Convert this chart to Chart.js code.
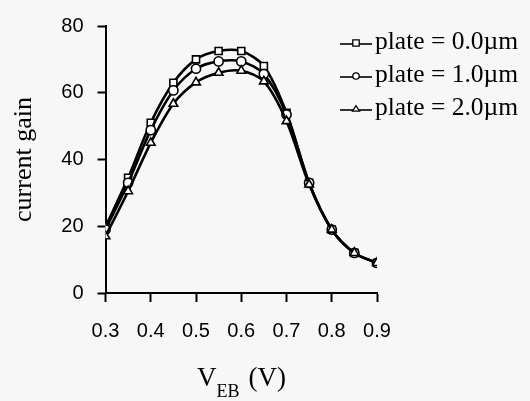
<!DOCTYPE html>
<html>
<head>
<meta charset="utf-8">
<script src="https://cdn.jsdelivr.net/npm/chart.js@4"></script>
<style>
  html, body { margin: 0; padding: 0; background: #f7f7f7; }
  #wrap { position: relative; width: 530px; height: 401px; }
  canvas { display: block; }
</style>
</head>
<body>
<div id="wrap"><canvas id="c" width="530" height="401"></canvas></div>
<script>
// ---- data ----
const vEB = [0.30, 0.35, 0.40, 0.45, 0.50, 0.55, 0.60, 0.65, 0.70, 0.75, 0.80, 0.85, 0.90];
const gainPlate0 = [19.8, 34.5, 51.0, 63.0, 70.0, 72.5, 72.5, 68.0, 54.0, 33.0, 19.0, 12.0, 9.0];
const gainPlate1 = [19.0, 33.0, 48.8, 60.7, 67.2, 69.4, 69.4, 65.6, 53.5, 33.0, 19.0, 12.0, 9.0];
const gainPlate2 = [17.0, 30.5, 45.0, 56.7, 63.1, 66.0, 66.6, 63.4, 51.5, 32.5, 19.0, 12.0, 9.0];
const seriesLabels = ['plate = 0.0\u00B5m', 'plate = 1.0\u00B5m', 'plate = 2.0\u00B5m'];
const seriesMarkers = ['rect', 'circle', 'triangle'];
const xTicks = [0.3, 0.4, 0.5, 0.6, 0.7, 0.8, 0.9];
const yTicks = [0, 20, 40, 60, 80];

const toXY = (ys) => vEB.map((x, i) => ({ x: x, y: ys[i] }));
const allSeries = [gainPlate0, gainPlate1, gainPlate2];
const markerRadius = [5, 4.6, 5];

const datasets = allSeries.map((ys, i) => ({
  label: seriesLabels[i],
  data: toXY(ys),
  borderColor: '#000',
  borderWidth: 2.6,
  backgroundColor: '#fff',
  pointStyle: seriesMarkers[i],
  pointRadius: markerRadius[i],
  pointBorderWidth: 1.6,
  pointBorderColor: '#000',
  pointBackgroundColor: '#fff',
  tension: 0.3,
  order: 3 - i
}));

function drawMarker(ctx, style, x, y, r) {
  ctx.beginPath();
  if (style === 'rect') {
    ctx.rect(x - r, y - r, 2 * r, 2 * r);
  } else if (style === 'circle') {
    ctx.arc(x, y, r, 0, Math.PI * 2);
  } else {
    const h = r * 1.7;
    ctx.moveTo(x, y - h * 0.6);
    ctx.lineTo(x + r * 1.1, y + h * 0.4);
    ctx.lineTo(x - r * 1.1, y + h * 0.4);
    ctx.closePath();
  }
  ctx.fillStyle = '#fff';
  ctx.fill();
  ctx.lineWidth = 1.3;
  ctx.strokeStyle = '#000';
  ctx.stroke();
}

const extras = {
  id: 'extras',
  afterDraw(chart) {
    const ctx = chart.ctx;
    ctx.save();
    // legend
    const rowsY = [42, 75, 108];
    ctx.font = '25.5px "Liberation Serif", "Times New Roman", serif';
    ctx.textBaseline = 'middle';
    ctx.textAlign = 'left';
    seriesLabels.forEach((lab, i) => {
      const y = rowsY[i];
      ctx.beginPath();
      ctx.moveTo(340, y + 2);
      ctx.lineTo(372, y + 2);
      ctx.lineWidth = 1.6;
      ctx.strokeStyle = '#000';
      ctx.stroke();
      drawMarker(ctx, seriesMarkers[i], 356, y + 1, 3.2);
      ctx.fillStyle = '#000';
      ctx.fillText(lab, 375, y);
    });
    // x axis title with subscript
    ctx.textBaseline = 'alphabetic';
    ctx.font = '27px "Liberation Serif", "Times New Roman", serif';
    let x = 197;
    ctx.fillText('V', x, 386);
    x += ctx.measureText('V').width;
    ctx.font = '18px "Liberation Serif", "Times New Roman", serif';
    ctx.fillText('EB', x, 397);
    x += ctx.measureText('EB').width + 3;
    ctx.font = '27px "Liberation Serif", "Times New Roman", serif';
    ctx.fillText('(V)', x + 6, 386);
    ctx.restore();
  }
};

new Chart(document.getElementById('c'), {
  type: 'line',
  data: { datasets: datasets },
  plugins: [extras],
  options: {
    responsive: false,
    animation: false,
    layout: { padding: { left: 0, right: 153, top: 14, bottom: 0 } },
    plugins: { legend: { display: false }, tooltip: { enabled: false } },
    scales: {
      x: {
        type: 'linear',
        min: 0.3, max: 0.9,
        afterFit(s) { s.height = 108; },
        afterBuildTicks(s) { s.ticks = xTicks.map(v => ({ value: v })); },
        grid: { display: true, drawOnChartArea: false, drawTicks: true, tickLength: 9, tickWidth: 2, color: '#000' },
        border: { display: true, color: '#000', width: 2 },
        ticks: {
          color: '#000', padding: 17,
          font: { family: '"Liberation Sans", Arial, sans-serif', size: 20 },
          callback: v => v.toFixed(1)
        }
      },
      y: {
        min: 0, max: 80,
        afterFit(s) { s.width = 105.5; },
        afterBuildTicks(s) { s.ticks = yTicks.map(v => ({ value: v })); },
        grid: { display: true, drawOnChartArea: false, drawTicks: true, tickLength: 8, tickWidth: 2, color: '#000' },
        border: { display: true, color: '#000', width: 2 },
        ticks: {
          color: '#000', padding: 14,
          font: { family: '"Liberation Sans", Arial, sans-serif', size: 20 }
        },
        title: {
          display: true, text: 'current gain', color: '#000',
          font: { family: '"Liberation Serif", "Times New Roman", serif', size: 26 },
          padding: { top: 9, bottom: 0 }
        }
      }
    }
  }
});
</script>
</body>
</html>
